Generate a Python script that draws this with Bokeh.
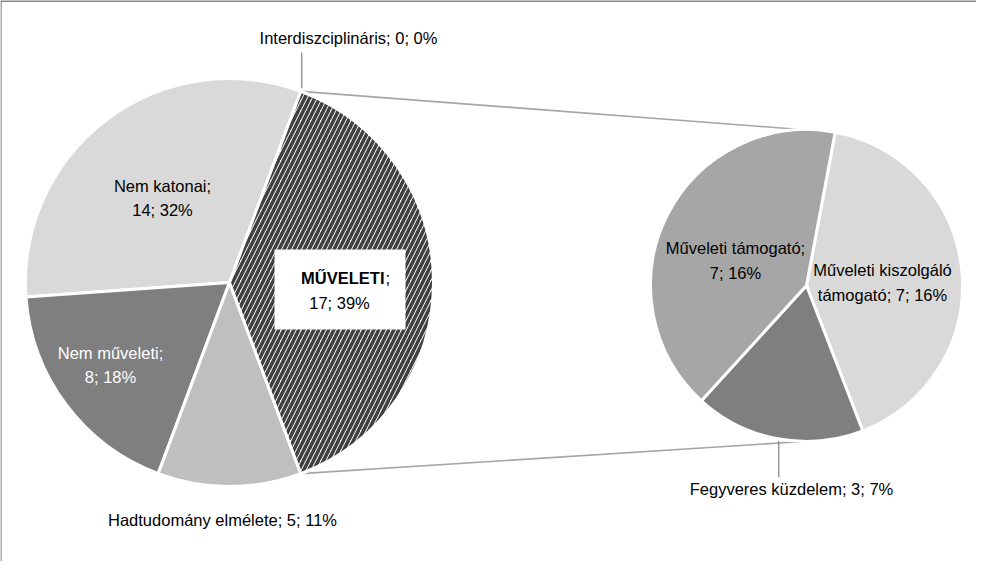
import numpy as np
from bokeh.plotting import figure
from bokeh.models import Range1d, ColumnDataSource
from bokeh.core.properties import value
from bokeh.embed import file_html
from bokeh.resources import INLINE

# ---- data ----
main_names = ["MŰVELETI", "Interdiszciplináris", "Nem katonai", "Nem műveleti", "Hadtudomány elmélete"]
main_values = [17, 0, 14, 8, 5]
main_colors = ["#ffffff", "#d9d9d9", "#d9d9d9", "#7f7f7f", "#bfbfbf"]

sub_names = ["Műveleti kiszolgáló támogató", "Fegyveres küzdelem", "Műveleti támogató"]
sub_values = [7, 3, 7]
sub_colors = ["#d9d9d9", "#7f7f7f", "#a6a6a6"]

FONT = "Liberation Sans"
FS = "16.5px"

# ---- layout (page pixel coords; y data = -page y) ----
W, H = 976, 561
main_c = (237, -290)
main_r = 204
sub_c = (814, -293)
sub_r = 156

p = figure(width=W, height=H, output_backend="svg", toolbar_location=None,
           x_range=Range1d(8, 8 + W), y_range=Range1d(-8 - H, -8),
           min_border=0, outline_line_color=None)
p.axis.visible = False
p.grid.visible = False
p.background_fill_color = "white"

total = sum(main_values)
ang = np.array(main_values) / total * 2 * np.pi
start0 = -ang[0] / 2
starts = start0 + np.concatenate([[0], np.cumsum(ang)[:-1]])
ends = starts + ang

sub_total = sum(sub_values)
sang = np.array(sub_values) / sub_total * 2 * np.pi
sub_start0 = np.deg2rad(79.4)
# clockwise from the top
s_ends = sub_start0 - np.concatenate([[0], np.cumsum(sang)[:-1]])
s_starts = s_ends - sang

# connector lines
a_top, a_bot = ends[0], starts[0]
p.segment(x0=[main_c[0] + main_r * np.cos(a_top), main_c[0] + main_r * np.cos(a_bot)],
          y0=[main_c[1] + main_r * np.sin(a_top), main_c[1] + main_r * np.sin(a_bot)],
          x1=[sub_c[0] - 6, sub_c[0] - 4],
          y1=[sub_c[1] + sub_r, sub_c[1] - sub_r],
          line_color="#a6a6a6", line_width=1.6)

# main pie
src = ColumnDataSource(dict(start=starts, end=ends, color=main_colors, name=main_names))
p.wedge(x=main_c[0], y=main_c[1], radius=main_r, start_angle="start", end_angle="end",
        fill_color="color", line_color="white", line_width=3, source=src)
# hatched segment
p.wedge(x=main_c[0], y=main_c[1], radius=main_r, start_angle=starts[0], end_angle=ends[0],
        fill_color="white", line_color="white", line_width=3,
        hatch_pattern="/", hatch_color="#404040", hatch_scale=10, hatch_weight=3.6)

# secondary pie
ssrc = ColumnDataSource(dict(start=s_starts, end=s_ends, color=sub_colors))
p.wedge(x=sub_c[0], y=sub_c[1], radius=sub_r, start_angle="start", end_angle="end",
        fill_color="color", line_color="white", line_width=3, source=ssrc)

# leader lines
a_int = ends[0]
ix = main_c[0] + main_r * np.cos(a_int) + 1
iy = main_c[1] + main_r * np.sin(a_int) + 3
fa = (s_starts[1] + s_ends[1]) / 2
fx = sub_c[0] + sub_r * np.cos(fa) + 1
fy = sub_c[1] + sub_r * np.sin(fa) - 2
p.segment(x0=[ix, fx], y0=[iy, fy], x1=[ix, fx], y1=[-60, -485],
          line_color="#808080", line_width=1.2)

# white label box for MŰVELETI
p.quad(left=[282], right=[413], top=[-257], bottom=[-337], fill_color="white", line_color=None)

def pct(v, t):
    return f"{round(v / t * 100)}%"

# labels
lab = dict(x=[], y=[], text=[], color=[])
def add(x, y, t, c="#000000"):
    lab["x"].append(x); lab["y"].append(y); lab["text"].append(t); lab["color"].append(c)

add(356, -45, f"{main_names[1]}; {main_values[1]}; {pct(main_values[1], total)}")
add(170, -193, f"{main_names[2]};")
add(170, -217, f"{main_values[2]}; {pct(main_values[2], total)}")
add(118, -360, f"{main_names[3]};", "#ffffff")
add(118, -384, f"{main_values[3]}; {pct(main_values[3], total)}", "#ffffff")
add(230, -527, f"{main_names[4]}; {main_values[4]}; {pct(main_values[4], total)}")
add(347, -310, f"{main_values[0]}; {pct(main_values[0], total)}")
add(743, -255, f"{sub_names[2]};")
add(743, -280, f"{sub_values[2]}; {pct(sub_values[2], total)}")
add(890, -277, "Műveleti kiszolgáló")
add(890, -302, f"támogató; {sub_values[0]}; {pct(sub_values[0], total)}")
add(799, -496, f"{sub_names[1]}; {sub_values[1]}; {pct(sub_values[1], total)}")

p.text(x="x", y="y", text="text", text_color="color", source=ColumnDataSource(lab),
       text_font=value(FONT), text_font_size=FS, text_align="center", text_baseline="middle")

p.text(x=[392], y=[-285], text=[main_names[0]], text_font=value(FONT), text_font_size=FS,
       text_font_style="bold", text_align="right", text_baseline="middle", text_color="#000000")
p.text(x=[393], y=[-285], text=[";"], text_font=value(FONT), text_font_size=FS,
       text_align="left", text_baseline="middle", text_color="#000000")

# chart frame (top and left visible)
p.segment(x0=[8], y0=[-8.5], x1=[8 + W], y1=[-8.5], line_color="#606060", line_width=1.5)
p.segment(x0=[8.5], y0=[-8], x1=[8.5], y1=[-8 - H], line_color="#8c8c8c", line_width=1.5)

open("out.html", "w").write(file_html(p, INLINE))
